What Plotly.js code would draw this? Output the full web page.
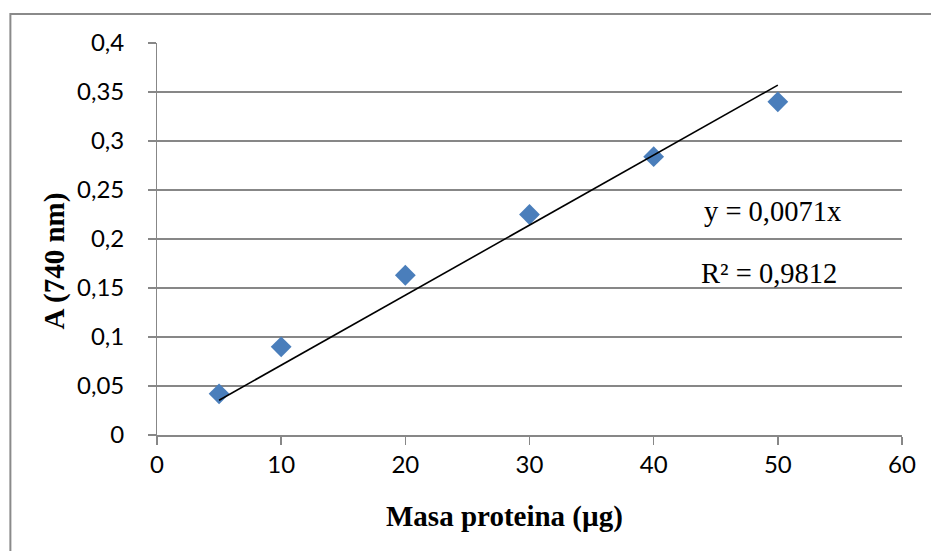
<!DOCTYPE html>
<html>
<head>
<meta charset="utf-8">
<script src="https://cdn.plot.ly/plotly-3.0.1.min.js"></script>
<style>
html,body{margin:0;padding:0;background:#fff;}
#chart{width:931px;height:551px;}
</style>
</head>
<body>
<div id="chart"></div>
<script>
// Data
const masa = [5, 10, 20, 30, 40, 50];
const absorb = [0.042, 0.090, 0.163, 0.225, 0.284, 0.340];
const trendX = [5, 50];
const trendY = [0.0355, 0.357];
const xTicks = [0, 10, 20, 30, 40, 50, 60];
const yTicks = [0, 0.05, 0.1, 0.15, 0.2, 0.25, 0.3, 0.35, 0.4];
const yTickText = ['0', '0,05', '0,1', '0,15', '0,2', '0,25', '0,3', '0,35', '0,4'];
const xTitle = 'Masa proteina (µg)';
const yTitle = 'A (740 nm)';
const eqText = 'y = 0,0071x';
const r2Text = 'R² = 0,9812';

const gridColor = '#878787';
const serif = '"Liberation Serif", "Times New Roman", serif';
const tickFont = {family: 'Lato, "Open Sans", sans-serif', size: 24, color: '#000'};
const titleFont = {family: serif, size: 29, color: '#000'};
const eqFont = {family: serif, size: 28.5, color: '#000'};
const pad = '\u00a0\u00a0\u00a0';

const traces = [
  {
    x: masa, y: absorb, type: 'scatter', mode: 'markers',
    marker: {symbol: 'diamond', size: 16, color: '#4a7ebb', line: {width: 0}},
    hoverinfo: 'x+y', showlegend: false
  },
  {
    x: trendX, y: trendY, type: 'scatter', mode: 'lines',
    line: {color: '#000', width: 1.6},
    hoverinfo: 'skip', showlegend: false
  }
];

const layout = {
  width: 931, height: 551,
  margin: {l: 157, r: 29, t: 43, b: 116, pad: 0},
  paper_bgcolor: '#fff', plot_bgcolor: '#fff',
  showlegend: false,
  xaxis: {
    range: [0, 60], tickvals: xTicks, ticktext: xTicks.map(String),
    showgrid: false, zeroline: false,
    showline: true, linecolor: gridColor, linewidth: 1.5,
    ticks: 'outside', ticklen: 8, tickwidth: 1.5, tickcolor: gridColor,
    tickfont: tickFont
  },
  yaxis: {
    range: [0, 0.4], tickvals: yTicks, ticktext: yTickText.map(t => t + pad),
    showgrid: true, gridcolor: gridColor, gridwidth: 1.5, zeroline: false,
    showline: true, linecolor: gridColor, linewidth: 1.5,
    ticks: 'outside', ticklen: 8, tickwidth: 1.5, tickcolor: gridColor,
    tickfont: tickFont
  },
  annotations: [
    {x: 0.467, y: -0.208, xref: 'paper', yref: 'paper', text: '<b>' + xTitle + '</b>',
     showarrow: false, font: titleFont, xanchor: 'center', yanchor: 'middle'},
    {x: -0.138, y: 0.443, xref: 'paper', yref: 'paper', text: '<b>' + yTitle + '</b>',
     showarrow: false, font: titleFont, textangle: -90, xanchor: 'center', yanchor: 'middle'},
    {x: 49.6, y: 0.2284, xref: 'x', yref: 'y', text: eqText, showarrow: false, font: eqFont,
     xanchor: 'center', yanchor: 'middle'},
    {x: 49.3, y: 0.165, xref: 'x', yref: 'y', text: r2Text, showarrow: false, font: eqFont,
     xanchor: 'center', yanchor: 'middle'}
  ],
  shapes: [
    {type: 'rect', xref: 'paper', yref: 'paper', x0: -0.1968, x1: 1.2, y0: -0.5, y1: 1.074,
     line: {color: '#8a8a8a', width: 2}, fillcolor: 'rgba(0,0,0,0)', layer: 'below'}
  ]
};

Plotly.newPlot('chart', traces, layout, {displayModeBar: false, staticPlot: true});
</script>
</body>
</html>
